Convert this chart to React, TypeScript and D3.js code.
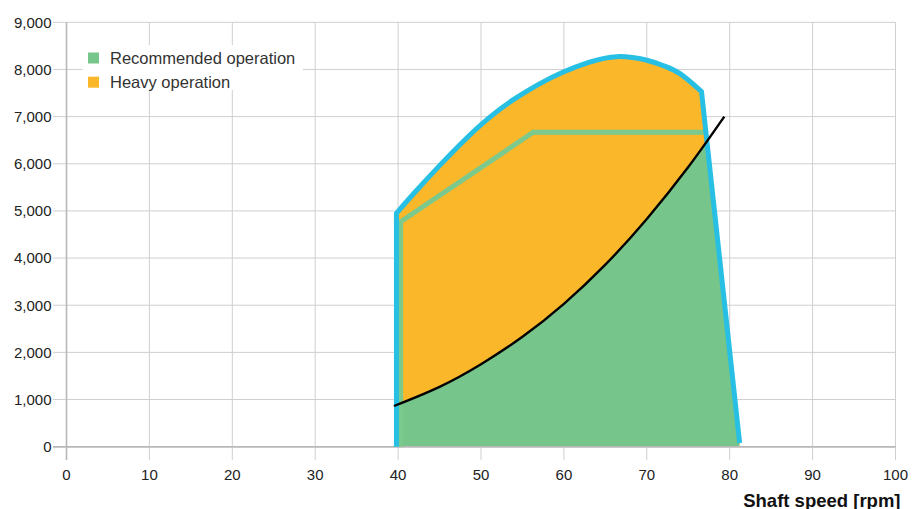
import React from "react";
import * as d3 from "d3";

// ---- Data ----
const xTicks = [0, 10, 20, 30, 40, 50, 60, 70, 80, 90, 100];
const yTicks = [0, 1000, 2000, 3000, 4000, 5000, 6000, 7000, 8000, 9000];

// Operating envelope (blue outline)
const envelopeStartSpeed = 39.8;
const envelopeArcSpeed = [39.8, 42, 45, 48, 51, 54, 57, 60, 63, 66.4, 70, 72, 74, 76.6];
const envelopeArcPower = [4950, 5390, 5960, 6500, 6980, 7370, 7690, 7950, 8150, 8272, 8195, 8080, 7910, 7530];
const envelopeEndSpeed = 81.2;
const envelopeEndPower = 80;

// Recommended operation boundary (green line)
const recSpeed = [40.3, 40.3, 56.3, 77.2];
const recPower = [0, 4770, 6668, 6668];

// Propeller curve (black)
const propSpeed = [39.5, 45, 50, 55, 60, 65, 70, 75, 79.35];
const propPower = [863, 1270, 1750, 2330, 3030, 3860, 4830, 5930, 7000];

const legendItems = [
  { label: "Recommended operation", color: "#76C58A" },
  { label: "Heavy operation", color: "#FBB72A" },
];

const W = 916;
const H = 509;
const x = d3.scaleLinear().domain([0, 100]).range([66.5, 895.5]);
const y = d3.scaleLinear().domain([0, 9000]).range([446.7, 22.3]);

const FONT = "'Liberation Sans', Arial, Helvetica, sans-serif";

export default function App() {
  const arcLine = d3
    .line<[number, number]>()
    .x((d) => x(d[0]))
    .y((d) => y(d[1]))
    .curve(d3.curveNatural);
  const plainLine = d3
    .line<[number, number]>()
    .x((d) => x(d[0]))
    .y((d) => y(d[1]));

  const arcPts: [number, number][] = envelopeArcSpeed.map((s, i) => [s, envelopeArcPower[i]]);
  const arcPath = (arcLine(arcPts) || "").replace(/^M/, "L");
  const outlinePath =
    `M${x(envelopeStartSpeed)},${y(0)}` +
    arcPath +
    `L${x(envelopeEndSpeed)},${y(envelopeEndPower)}`;
  const fillPath = outlinePath + `L${x(envelopeEndSpeed - 0.05)},${y(0)}Z`;

  const recPts: [number, number][] = recSpeed.map((s, i) => [s, recPower[i]]);
  const propPts: [number, number][] = propSpeed.map((s, i) => [s, propPower[i]]);
  const propLine = d3
    .line<[number, number]>()
    .x((d) => x(d[0]))
    .y((d) => y(d[1]))
    .curve(d3.curveNatural);
  const propPath = propLine(propPts) || "";
  const last = propPts[propPts.length - 1];
  const first = propPts[0];
  const greenArea =
    propPath +
    `L${x(85)},${y(last[1])}L${x(85)},${y(-200)}L${x(35)},${y(-200)}L${x(35)},${y(first[1])}Z`;

  const gridColor = "#cfcfcf";

  return (
    <svg
      width={W}
      height={H}
      style={{ position: "absolute", left: 0, top: 0, background: "#fff" }}
    >
      <defs>
        <clipPath id="envClip">
          <path d={fillPath} />
        </clipPath>
      </defs>

      {/* grid */}
      {yTicks.map((t) => (
        <line
          key={"gy" + t}
          x1={53}
          x2={x(100)}
          y1={y(t)}
          y2={y(t)}
          stroke={t === 0 ? "#b8b8b8" : gridColor}
          strokeWidth={t === 0 ? 1.6 : 1}
        />
      ))}
      {xTicks.map((t) => (
        <line
          key={"gx" + t}
          x1={x(t)}
          x2={x(t)}
          y1={y(9000)}
          y2={460}
          stroke={t === 0 ? "#b8b8b8" : gridColor}
          strokeWidth={t === 0 ? 1.6 : 1}
        />
      ))}

      {/* tick labels */}
      {yTicks.map((t) => (
        <text
          key={"ly" + t}
          x={51.5}
          y={y(t)}
          dy="0.36em"
          textAnchor="end"
          fontFamily={FONT}
          fontSize={15}
          fill="#222"
        >
          {d3.format(",")(t)}
        </text>
      ))}
      {xTicks.map((t) => (
        <text
          key={"lx" + t}
          x={x(t)}
          y={480}
          textAnchor="middle"
          fontFamily={FONT}
          fontSize={15}
          fill="#222"
        >
          {t}
        </text>
      ))}
      <text
        x={900.5}
        y={506.5}
        textAnchor="end"
        fontFamily={FONT}
        fontSize={18.5}
        fontWeight="bold"
        fill="#111"
      >
        Shaft speed [rpm]
      </text>

      {/* areas */}
      <path d={fillPath} fill="#FBB72A" />
      <path d={greenArea} fill="#76C58A" clipPath="url(#envClip)" />
      <line
        x1={53}
        x2={x(100)}
        y1={y(0)}
        y2={y(0)}
        stroke="#b8b8b8"
        strokeWidth={1.6}
      />

      {/* lines */}
      <path d={plainLine(recPts) || ""} fill="none" stroke="#7BC98C" strokeWidth={5} />
      <path
        d={outlinePath}
        fill="none"
        stroke="#27BFE3"
        strokeWidth={5}
        strokeLinejoin="miter"
      />
      <path d={propPath} fill="none" stroke="#000" strokeWidth={2.4} />

      {/* legend */}
      <rect x={82.5} y={45} width={220.5} height={45} fill="#fff" />
      {legendItems.map((it, i) => (
        <g key={it.label} transform={`translate(88, ${52.5 + i * 24.2})`}>
          <rect width={11} height={11} fill={it.color} />
          <text
            x={22}
            y={11.5}
            fontFamily={FONT}
            fontSize={16.5}
            fill="#333"
          >
            {it.label}
          </text>
        </g>
      ))}
    </svg>
  );
}
